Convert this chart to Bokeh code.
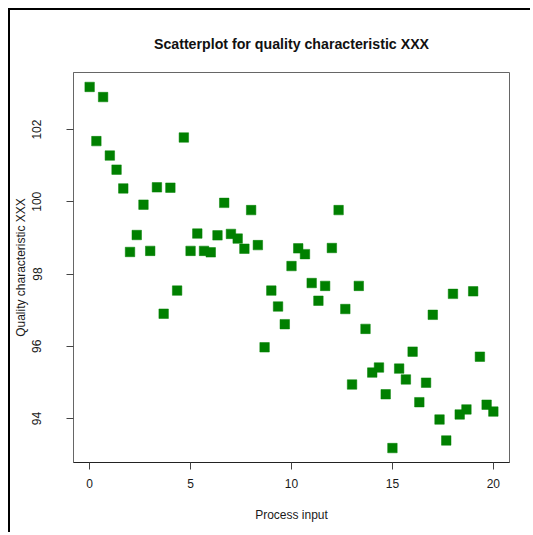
from bokeh.plotting import figure
from bokeh.models import Range1d, FixedTicker, ColumnDataSource
from bokeh.embed import file_html
from bokeh.resources import INLINE

# Data (61 points, x in steps of 1/3)
process_input = [i / 3 for i in range(61)]
quality = [
    103.18, 101.68, 102.90, 101.28, 100.89, 100.37, 98.61, 99.08, 99.92, 98.64,
    100.40, 96.90, 100.39, 97.54, 101.78, 98.64, 99.12, 98.64, 98.60, 99.07,
    99.97, 99.11, 98.98, 98.70, 99.77, 98.80, 95.97, 97.54, 97.10, 96.61,
    98.22, 98.71, 98.55, 97.75, 97.26, 97.67, 98.72, 99.77, 97.03, 94.94,
    97.67, 96.48, 95.27, 95.41, 94.67, 93.18, 95.38, 95.08, 95.85, 94.45,
    94.99, 96.87, 93.97, 93.39, 97.45, 94.11, 94.25, 97.52, 95.71, 94.38,
    94.19,
]
x_ticks = [0, 5, 10, 15, 20]
y_ticks = [94, 96, 98, 100, 102]

title_text = "Scatterplot for quality characteristic XXX"
x_label = "Process input"
y_label = "Quality characteristic XXX"

# R-style 4% range extension
xmin, xmax = min(process_input), max(process_input)
ymin, ymax = min(quality), max(quality)
xpad = 0.04 * (xmax - xmin)
ypad = 0.04 * (ymax - ymin)

FONT = "Liberation Sans"

p = figure(
    width=522, height=524,
    x_range=Range1d(xmin - xpad, xmax + xpad),
    y_range=Range1d(ymin - ypad, ymax + ypad),
    output_backend="svg", toolbar_location=None,
    min_border_left=62, min_border_top=62,
    min_border_right=23, min_border_bottom=72,
)
p.styles = {
    "margin-left": "8px", "margin-top": "8px",
    "border-left": "2px solid black", "border-top": "2px solid black",
}

p.title.text = title_text
p.title.align = "center"
p.title.text_font = FONT
p.title.text_font_size = "14.2px"
p.title.text_font_style = "bold"
p.title.text_color = "#111111"
p.title.standoff = 41

p.xgrid.visible = False
p.ygrid.visible = False
p.background_fill_color = "white"
p.border_fill_color = "white"
p.outline_line_color = "#666666"
p.outline_line_width = 1

for ax in (p.xaxis[0], p.yaxis[0]):
    ax.major_tick_in = 0
    ax.major_tick_out = 7
    ax.minor_tick_line_color = None
    ax.major_tick_line_color = "#444444"
    ax.major_label_text_font = FONT
    ax.major_label_text_font_size = "12px"
    ax.major_label_text_color = "#1a1a1a"
    ax.axis_label_text_font = FONT
    ax.axis_label_text_font_size = "12px"
    ax.axis_label_text_font_style = "normal"
    ax.axis_label_text_color = "#1a1a1a"

p.xaxis.ticker = FixedTicker(ticks=x_ticks)
p.yaxis.ticker = FixedTicker(ticks=y_ticks)
p.xaxis.axis_label = x_label
p.yaxis.axis_label = y_label
p.xaxis.axis_line_color = "#222222"
p.yaxis.axis_line_color = "#666666"
p.yaxis.major_label_orientation = "vertical"
p.xaxis.major_label_standoff = 9
p.xaxis.axis_label_standoff = 17
p.yaxis.major_label_standoff = 25
p.yaxis.axis_label_standoff = 2

src = ColumnDataSource(dict(x=process_input, y=quality))
p.scatter("x", "y", source=src, marker="square", size=9.5,
          fill_color="#008000", line_color="#008000", line_width=0.5)

open("out.html", "w").write(file_html(p, INLINE))
